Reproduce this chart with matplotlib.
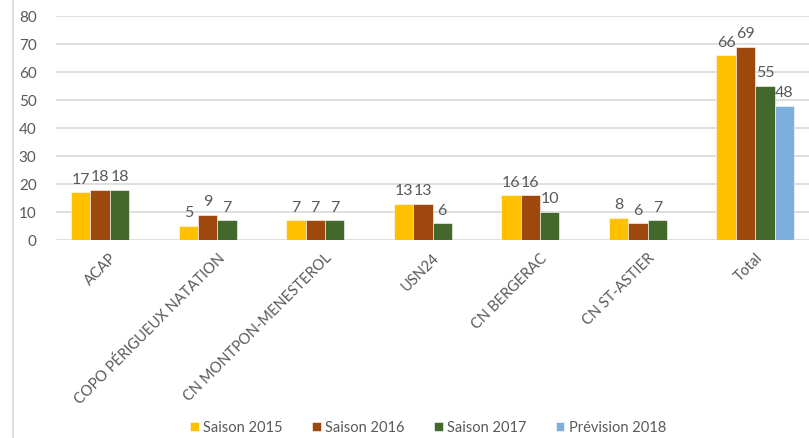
import matplotlib
matplotlib.use("Agg")
import matplotlib.pyplot as plt
import numpy as np
from matplotlib.lines import Line2D

categories = ["ACAP", "COPO PÉRIGUEUX NATATION", "CN MONTPON-MENESTEROL",
              "USN24", "CN BERGERAC", "CN ST-ASTIER", "Total"]
series_names = ["Saison 2015", "Saison 2016", "Saison 2017", "Prévision 2018"]
s2015 = [17, 5, 7, 13, 16, 8, 66]
s2016 = [18, 9, 7, 13, 16, 6, 69]
s2017 = [18, 7, 7, 6, 10, 7, 55]
s2018 = [None, None, None, None, None, None, 48]
colors = ["#FFC000", "#9E480E", "#43682B", "#7CAFDD"]

plt.rcParams['font.family'] = ['Lato', 'DejaVu Sans']
gray = "#595959"

fig = plt.figure(figsize=(8.09, 4.38), dpi=100)
ax = fig.add_axes([56/809, 1-240/438, (809-56)/809, 224/438])

n = len(categories)
x = np.arange(n)
bw = 0.18
allseries = [s2015, s2016, s2017, s2018]
for i, (vals, name, c) in enumerate(zip(allseries, series_names, colors)):
    xs = x - 1.5*bw + i*bw
    v = np.array([np.nan if a is None else a for a in vals], dtype=float)
    ax.bar(xs, v, width=bw, color=c, edgecolor="white", linewidth=0.4,
           label=name, zorder=3)
    for xx, vv in zip(xs, v):
        if not np.isnan(vv):
            ax.annotate(f"{int(vv)}", (xx, vv), xytext=(0, 4), textcoords="offset points",
                        ha="center", va="bottom", fontsize=11.5, color=gray)

ax.set_xlim(-0.5, n-0.5)
ax.set_ylim(0, 80)
ax.set_yticks(range(0, 81, 10))
ax.yaxis.grid(True, color="#d9d9d9", linewidth=1.2, zorder=0)
ax.set_axisbelow(True)
for s in ax.spines.values():
    s.set_visible(False)
ax.tick_params(axis="y", length=0, pad=14, labelsize=11, labelcolor=gray)
ax.tick_params(axis="x", length=0, pad=8, labelsize=10.5, labelcolor=gray)
ax.set_xticks(x)
ax.set_xticklabels(categories, rotation=45, ha="right", rotation_mode="anchor")

leg = ax.legend(loc="center", ncol=4, frameon=False, fontsize=10.5,
                handlelength=0.6, handleheight=0.6,
                handletextpad=0.3, columnspacing=2.0, labelcolor=gray)
leg.set_bbox_to_anchor((428/809, 1-428/438), transform=fig.transFigure)

fig.add_artist(Line2D([12.5/809, 12.5/809], [0, 1], color="#d9d9d9", linewidth=1.2,
                      transform=fig.transFigure))

fig.savefig("out.png", dpi=100)
